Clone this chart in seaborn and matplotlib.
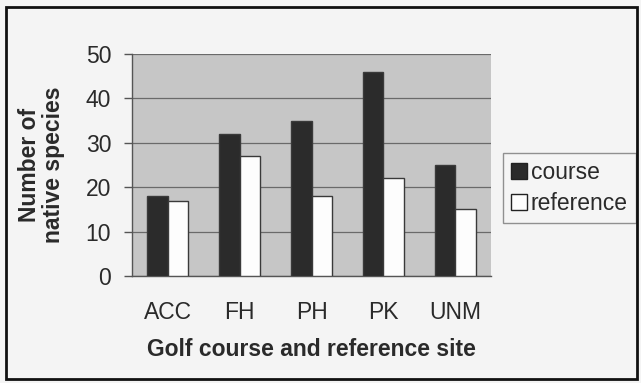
import pandas as pd
import seaborn as sns
import matplotlib.pyplot as plt
from matplotlib.patches import Rectangle

# data
sites = ["ACC", "FH", "PH", "PK", "UNM"]
course = [18, 32, 35, 46, 25]
reference = [17, 27, 18, 22, 15]
series = ["course", "reference"]

df = pd.DataFrame({
    "site": sites * 2,
    "n": course + reference,
    "type": [series[0]] * len(sites) + [series[1]] * len(sites),
})

sns.set_style("white")
plt.rcParams['font.family'] = ['Liberation Sans', 'DejaVu Sans']
FS = 16.5
TXT = "#2a2a2a"

fig = plt.figure(figsize=(6.41, 3.83), dpi=100, facecolor="#f4f4f4")
ax = fig.add_axes([132 / 641, 1 - 276 / 383, 359 / 641, 222 / 383])
ax.set_facecolor("#c6c6c6")

sns.barplot(data=df, x="site", y="n", hue="type", ax=ax,
            palette={"course": "#2b2b2b", "reference": "#fdfdfd"},
            width=0.57, edgecolor="#3a3a3a", linewidth=1.0, zorder=3)

ax.set_ylim(0, 50)
ax.set_yticks(range(0, 51, 10))
ax.set_xlim(-0.5, 4.5)
ax.yaxis.grid(True, color="#6a6a6a", linewidth=0.9, zorder=0)
ax.set_axisbelow(True)

for s in ["top", "right"]:
    ax.spines[s].set_visible(False)
for s in ["left", "bottom"]:
    ax.spines[s].set_color("#555555")
    ax.spines[s].set_linewidth(1.0)

# excel style ticks between categories
ax.set_xticks([-0.5, 0.5, 1.5, 2.5, 3.5, 4.5], minor=True)
ax.tick_params(axis="x", which="major", length=0, pad=18, labelsize=FS, colors=TXT)
ax.tick_params(axis="x", which="minor", length=7, width=1, color="#555555", direction="out")
ax.tick_params(axis="y", length=6, width=1, color="#555555", direction="out",
               labelsize=FS, labelcolor=TXT, pad=9, left=True)

ax.set_xlabel("Golf course and reference site", fontsize=FS, fontweight="bold",
              color=TXT, labelpad=10)
ax.set_ylabel("Number of\nnative species", fontsize=FS, fontweight="bold",
              color=TXT, labelpad=15, linespacing=1.05)

leg = ax.legend(loc="upper left", bbox_to_anchor=(503 / 641, 1 - 153 / 383),
                bbox_transform=fig.transFigure, frameon=True, fancybox=False,
                fontsize=FS, handlelength=0.7, handleheight=0.75, handletextpad=0.15,
                borderpad=0.35, borderaxespad=0, labelspacing=0.35)
leg.get_frame().set_edgecolor("#777777")
leg.get_frame().set_facecolor("#f6f6f6")
leg.get_frame().set_linewidth(1.0)
for h in leg.legend_handles:
    h.set_edgecolor("#222222")
for t in leg.get_texts():
    t.set_color(TXT)

# outer frame
fig.patches.append(Rectangle((6 / 641, 4 / 383), 631 / 641, 372 / 383,
                             transform=fig.transFigure, fill=False,
                             edgecolor="#111111", linewidth=2))

fig.savefig("out.png", dpi=100, facecolor=fig.get_facecolor())
